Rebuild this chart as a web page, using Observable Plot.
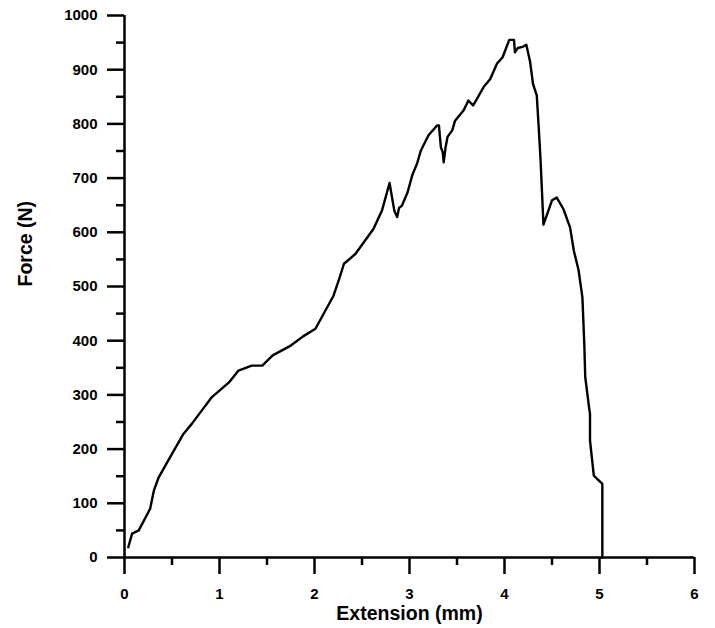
<!DOCTYPE html>
<html>
<head>
<meta charset="utf-8">
<script src="https://cdn.jsdelivr.net/npm/d3@7"></script>
<script src="https://cdn.jsdelivr.net/npm/@observablehq/plot@0.6"></script>
<style>
  html, body { margin: 0; padding: 0; background: #fff; }
</style>
</head>
<body>
<div id="chart"></div>
<script>
// Extension (mm)
const extension = [0.04, 0.08, 0.15, 0.27, 0.31, 0.36, 0.47, 0.62, 0.71, 0.92,
  1.10, 1.20, 1.34, 1.45, 1.56, 1.75, 1.88, 2.01, 2.20, 2.26,
  2.31, 2.43, 2.62, 2.71, 2.79, 2.84, 2.87, 2.89, 2.92, 2.98,
  3.03, 3.08, 3.12, 3.20, 3.29, 3.31, 3.33, 3.35, 3.36, 3.38,
  3.40, 3.45, 3.48, 3.57, 3.62, 3.67, 3.71, 3.78, 3.85, 3.92,
  3.98, 4.05, 4.10, 4.11, 4.14, 4.19, 4.23, 4.27, 4.30, 4.34,
  4.36, 4.38, 4.41, 4.50, 4.55, 4.62, 4.69, 4.73, 4.78, 4.82,
  4.84, 4.85, 4.89, 4.90, 4.90, 4.94, 5.03, 5.03];
// Force (N)
const force = [19, 44, 50, 90, 124, 148, 182, 228, 247, 296,
  323, 345, 354, 354, 373, 391, 408, 422, 483, 514,
  542, 560, 606, 640, 691, 640, 628, 645, 649, 674,
  706, 727, 751, 779, 797, 797, 757, 748, 729, 757,
  776, 788, 806, 825, 843, 834, 846, 868, 883, 911,
  923, 955, 955, 932, 940, 942, 946, 914, 874, 852,
  794, 732, 614, 659, 664, 643, 609, 566, 530, 480,
  394, 333, 277, 265, 216, 151, 136, 0];

const xTicks = [0, 1, 2, 3, 4, 5, 6];
const xMinorTicks = [0.5, 1.5, 2.5, 3.5, 4.5, 5.5];
const yTicks = [0, 100, 200, 300, 400, 500, 600, 700, 800, 900, 1000];
const yMinorTicks = [50, 150, 250, 350, 450, 550, 650, 750, 850, 950];
const xLabel = "Extension (mm)";
const yLabel = "Force (N)";

const data = extension.map((x, i) => ({x, y: force[i]}));

const chart = Plot.plot({
  width: 715,
  height: 628,
  marginLeft: 124,
  marginRight: 21,
  marginTop: 15,
  marginBottom: 71,
  style: {fontFamily: "'Liberation Sans', Arial, sans-serif", fontSize: "15px", fontWeight: "bold", color: "#000", background: "#fff"},
  x: {domain: [0, 6]},
  y: {domain: [0, 1000]},
  marks: [
    Plot.axisX({ticks: xTicks, tickSize: 17, tickPadding: 14, stroke: "#000", strokeWidth: 2.5, tickFormat: d => String(d), label: null}),
    Plot.axisX({ticks: xMinorTicks, tickSize: 8, stroke: "#000", strokeWidth: 2.5, text: null, label: null}),
    Plot.axisY({ticks: yTicks, tickSize: 17, tickPadding: 10, stroke: "#000", strokeWidth: 2.5, tickFormat: d => String(d), label: null}),
    Plot.axisY({ticks: yMinorTicks, tickSize: 8, stroke: "#000", strokeWidth: 2.5, text: null, label: null}),
    Plot.ruleY([0], {stroke: "#000", strokeWidth: 2.5}),
    Plot.ruleX([0], {stroke: "#000", strokeWidth: 2.5}),
    Plot.line(data, {x: "x", y: "y", stroke: "#000", strokeWidth: 2.4}),
    Plot.text([xLabel], {frameAnchor: "bottom", dy: 62, lineAnchor: "bottom", fontSize: 19.5, fontWeight: "bold", fill: "#000"}),
    Plot.text([yLabel], {frameAnchor: "left", dx: -93, rotate: -90, lineAnchor: "bottom", fontSize: 19.5, fontWeight: "bold", fill: "#000"})
  ]
});
document.getElementById("chart").appendChild(chart);
</script>
</body>
</html>
